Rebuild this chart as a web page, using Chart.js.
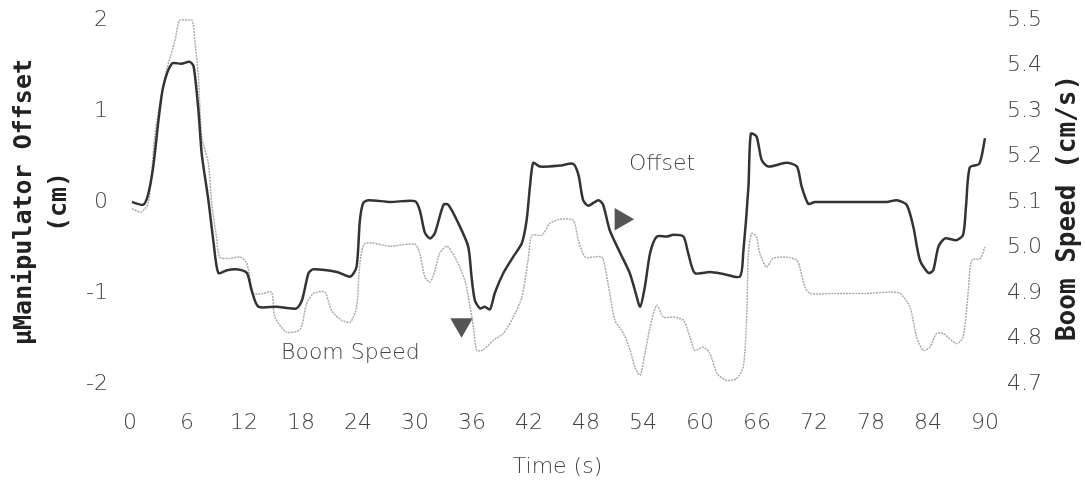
<!DOCTYPE html>
<html>
<head>
<meta charset="utf-8">
<script src="https://cdn.jsdelivr.net/npm/chart.js@4"></script>
<style>
  html, body { margin: 0; padding: 0; background: #fff; }
  #wrap { width: 1085px; height: 481px; position: relative; }
</style>
</head>
<body>
<div id="wrap"><canvas id="grafico"></canvas></div>
<script>
// Offset (cm), left axis
const offsetTime = [0.2, 1.4, 1.9, 2.45, 3.0, 3.5, 4.4, 5.4, 6.3, 6.7, 7.2, 7.55, 8.25, 8.8, 9.3, 10.2, 11.2, 12.3, 12.8, 13.5,
  15.4, 17.5, 18.1, 18.8, 19.3, 21.8, 23.2, 23.85, 24.2, 24.55, 25.1, 27.4, 30.0, 30.5, 31.05, 31.6, 32.1, 33.0, 33.5, 34.55,
  35.6, 35.95, 36.3, 36.85, 37.35, 37.9, 38.4, 39.3, 40.35, 41.25, 41.75, 42.1, 42.45, 43.15, 45.25, 46.65, 47.2, 47.7, 48.25, 49.3,
  49.8, 50.5, 51.6, 52.6, 53.15, 53.7, 54.2, 54.75, 55.45, 56.5, 57.2, 58.25, 58.75, 59.45, 61.05, 62.45, 64.2, 64.55, 65.1, 65.35,
  65.95, 66.5, 67.2, 69.1, 70.2, 70.7, 71.4, 72.1, 79.65, 80.7, 81.75, 82.45, 83.15, 84.05, 84.55, 85.1, 85.8, 87.0, 87.7, 88.0,
  88.4, 89.4, 90.0];
const offsetCm = [0.0, -0.03, 0.08, 0.39, 0.9, 1.27, 1.52, 1.52, 1.54, 1.49, 1.01, 0.53, 0.02, -0.45, -0.78, -0.75, -0.74, -0.78, -0.97, -1.15,
  -1.15, -1.17, -1.08, -0.78, -0.74, -0.77, -0.82, -0.71, -0.2, -0.01, 0.02, 0.0, 0.01, -0.09, -0.34, -0.4, -0.34, -0.03, -0.03, -0.23,
  -0.49, -0.82, -1.08, -1.17, -1.15, -1.18, -1.0, -0.78, -0.6, -0.45, -0.2, 0.17, 0.43, 0.39, 0.4, 0.42, 0.3, 0.02, -0.04, 0.02,
  -0.03, -0.31, -0.56, -0.78, -0.97, -1.15, -0.93, -0.56, -0.38, -0.38, -0.36, -0.38, -0.56, -0.78, -0.77, -0.79, -0.82, -0.56, 0.17, 0.75,
  0.72, 0.46, 0.39, 0.43, 0.39, 0.17, -0.02, 0.0, 0.0, 0.02, -0.03, -0.27, -0.64, -0.78, -0.75, -0.49, -0.4, -0.42, -0.36, -0.05,
  0.38, 0.42, 0.7];

// Boom speed (cm/s), right axis
const speedTime = [0.2, 1.2, 1.9, 2.3, 2.6, 3.15, 3.85, 4.75, 5.25, 6.5, 6.85, 7.2, 7.55, 8.25, 8.6, 9.1, 9.45, 10.5, 11.6, 12.3,
  13.0, 14.0, 14.9, 15.25, 16.5, 17.9, 18.6, 19.3, 20.5, 21.2, 22.3, 23.2, 23.85, 24.2, 24.75, 27.4, 30.0, 30.5, 31.05, 31.6,
  32.1, 32.6, 33.35, 34.2, 35.25, 35.8, 36.15, 36.5, 37.2, 38.25, 39.3, 40.35, 41.25, 41.9, 42.3, 43.35, 44.2, 45.25, 46.65, 47.2,
  47.9, 48.8, 49.65, 50.0, 50.5, 51.05, 51.95, 52.65, 53.15, 53.7, 54.2, 54.75, 55.45, 56.15, 57.2, 58.25, 58.95, 59.45, 60.35, 61.05,
  61.8, 62.8, 63.85, 64.55, 64.9, 65.1, 65.45, 65.95, 66.3, 67.0, 67.7, 69.1, 70.2, 70.5, 71.05, 71.6, 74.0, 77.5, 80.0, 81.05,
  82.1, 82.8, 83.5, 84.2, 84.9, 85.6, 87.0, 87.7, 88.25, 88.6, 89.5, 90.0];
const speedCms = [5.085, 5.078, 5.097, 5.17, 5.243, 5.317, 5.39, 5.456, 5.5, 5.5, 5.449, 5.375, 5.243, 5.185, 5.097, 5.023, 4.979, 4.976, 4.979, 4.965,
  4.899, 4.899, 4.902, 4.847, 4.814, 4.82, 4.877, 4.899, 4.902, 4.862, 4.84, 4.836, 4.869, 4.965, 5.009, 5.003, 5.007, 4.987, 4.935, 4.924,
  4.95, 4.987, 5.003, 4.979, 4.928, 4.869, 4.825, 4.774, 4.775, 4.796, 4.811, 4.847, 4.891, 4.972, 5.027, 5.027, 5.053, 5.062, 5.06, 5.016,
  4.979, 4.979, 4.979, 4.957, 4.899, 4.84, 4.811, 4.774, 4.737, 4.719, 4.767, 4.825, 4.873, 4.847, 4.847, 4.84, 4.803, 4.774, 4.781, 4.767,
  4.723, 4.708, 4.712, 4.737, 4.84, 4.987, 5.031, 5.023, 4.987, 4.957, 4.976, 4.979, 4.972, 4.957, 4.913, 4.899, 4.899, 4.899, 4.902, 4.899,
  4.869, 4.803, 4.774, 4.781, 4.811, 4.811, 4.789, 4.803, 4.906, 4.972, 4.976, 5.001];

const xTicks = [0, 6, 12, 18, 24, 30, 36, 42, 48, 54, 60, 66, 72, 78, 84, 90];

// in-plot labels and arrow heads, in data units (x = s, y = cm)
const notes = [{ text: 'Offset', t: 56, v: 0.41 }, { text: 'Boom Speed', t: 23.2, v: -1.66 }];
const markerTime = [34.9, 51.7];
const markerCm = [-1.35, -0.19];
const markerTurn = [180, 90];

document.addEventListener('DOMContentLoaded', () => {
    const fuenteTicks = { family: '"DejaVu Sans", sans-serif', size: 22, weight: 300 };
    const fuenteTitulo = { family: '"DejaVu Sans Mono", monospace', size: 25, weight: 'bold' };

    const toPoints = (xs, ys) => xs.map((t, i) => ({ x: t, y: ys[i] }));

    // fixed box sizes so the plot area matches the picture
    const fijarAncho = ancho => s => { s.width = ancho; s.paddingTop = 0; s.paddingBottom = 0; };

    const etiquetas = {
        id: 'etiquetas',
        afterDatasetsDraw(chart) {
            const { ctx, scales: { x, y, y2 } } = chart;
            ctx.save();
            ctx.fillStyle = '#444';
            ctx.textAlign = 'center';
            ctx.textBaseline = 'middle';
            ctx.font = '300 22px "DejaVu Sans", sans-serif';
            notes.forEach(n => ctx.fillText(n.text, x.getPixelForValue(n.t), y.getPixelForValue(n.v)));

            // right title reads bottom to top, like the left one
            ctx.fillStyle = '#222';
            ctx.font = 'bold 26px "DejaVu Sans Mono", monospace';
            ctx.translate(y2.right - 17, 208);
            ctx.rotate(-Math.PI / 2);
            ctx.fillText('Boom Speed (cm/s)', 0, 0);
            ctx.restore();
        }
    };

    new Chart(document.getElementById('grafico'), {
        type: 'line',
        data: {
            datasets: [{
                label: 'Offset',
                data: toPoints(offsetTime, offsetCm),
                yAxisID: 'y',
                borderColor: '#333',
                borderWidth: 2.5,
                pointRadius: 0,
                tension: 0.25,
                clip: 10
            }, {
                label: 'Boom Speed',
                data: toPoints(speedTime, speedCms),
                yAxisID: 'y2',
                borderColor: '#aaa',
                borderWidth: 1.5,
                borderDash: [2, 1],
                pointRadius: 0,
                tension: 0.25,
                clip: 10
            }, {
                label: 'markers',
                data: toPoints(markerTime, markerCm),
                yAxisID: 'y',
                showLine: false,
                pointStyle: 'triangle',
                pointRadius: 13,
                pointRotation: markerTurn,
                backgroundColor: '#555',
                borderColor: '#555',
                borderWidth: 0,
                clip: false
            }]
        },
        options: {
            responsive: true,
            maintainAspectRatio: false,
            animation: false,
            layout: { padding: { top: 20, left: 0, right: 0, bottom: 0 } },
            plugins: { legend: { display: false }, tooltip: { enabled: false } },
            scales: {
                x: {
                    type: 'linear',
                    min: 0, max: 90,
                    afterBuildTicks: s => { s.ticks = xTicks.map(v => ({ value: v })); },
                    afterFit: s => { s.height = 97; s.paddingLeft = 0; s.paddingRight = 0; },
                    grid: { display: false, drawTicks: false },
                    border: { display: false },
                    ticks: { color: '#444', font: fuenteTicks, padding: 26, maxRotation: 0 },
                    title: { display: true, text: 'Time (s)', color: '#444', font: { family: '"DejaVu Sans", sans-serif', size: 22, weight: 300 }, padding: { bottom: 1 } }
                },
                y: {
                    position: 'left',
                    min: -2, max: 2,
                    afterFit: fijarAncho(130),
                    grid: { display: false, drawTicks: false },
                    border: { display: false },
                    ticks: { stepSize: 1, color: '#444', font: fuenteTicks, padding: 22 },
                    title: { display: true, text: ['μManipulator Offset', '(cm)'], color: '#222', font: { ...fuenteTitulo, lineHeight: 1.4 }, padding: { top: 7 } }
                },
                y2: {
                    position: 'right',
                    min: 4.7, max: 5.5,
                    afterFit: fijarAncho(100),
                    grid: { display: false, drawTicks: false },
                    border: { display: false },
                    ticks: { stepSize: 0.1, color: '#444', font: fuenteTicks, padding: 22, callback: v => v.toFixed(1) }
                }
            }
        },
        plugins: [etiquetas]
    });
});
</script>
</body>
</html>
